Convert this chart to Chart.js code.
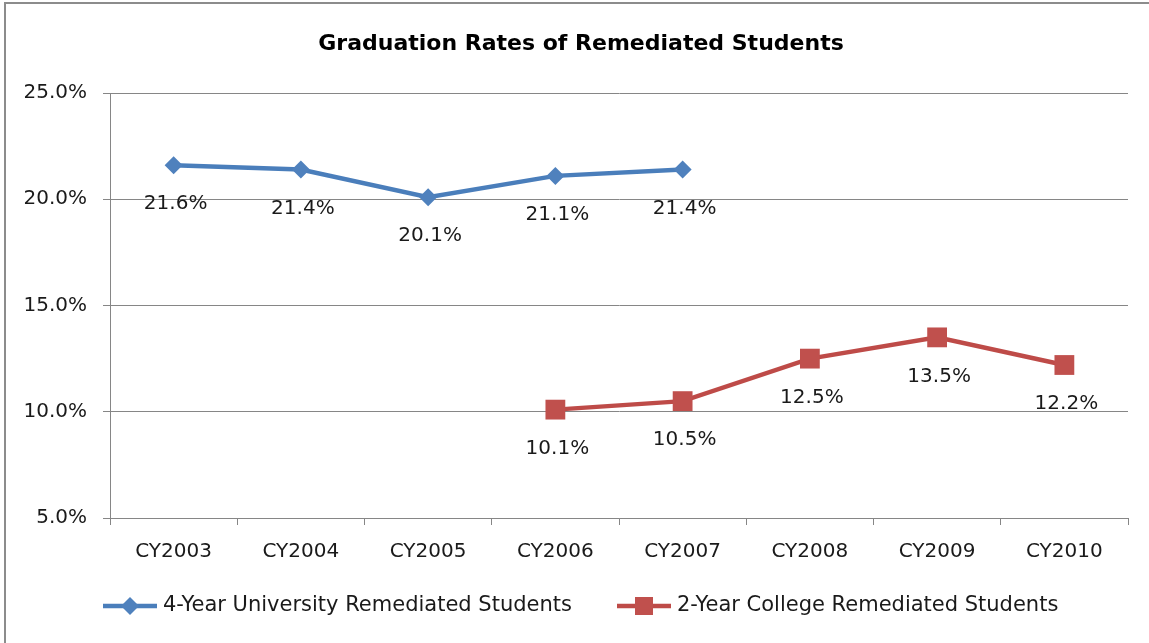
<!DOCTYPE html>
<html>
<head>
<meta charset="utf-8">
<script src="https://cdn.jsdelivr.net/npm/chart.js@4.4.1/dist/chart.umd.min.js"></script>
<style>
  html, body { margin: 0; padding: 0; background: #fff; }
  #wrap { width: 1149px; height: 643px; position: relative; }
</style>
</head>
<body>
<div id="wrap"><canvas id="gradChart" width="1149" height="643"></canvas></div>
<script>
const years = ['CY2003', 'CY2004', 'CY2005', 'CY2006', 'CY2007', 'CY2008', 'CY2009', 'CY2010'];
const fourYearRates = [21.6, 21.4, 20.1, 21.1, 21.4, null, null, null];
const twoYearRates = [null, null, null, 10.1, 10.5, 12.5, 13.5, 12.2];
const yTickValues = [5, 10, 15, 20, 25];
const seriesNames = ['4-Year University Remediated Students', '2-Year College Remediated Students'];
const chartTitle = 'Graduation Rates of Remediated Students';

const FONT = '"DejaVu Sans", sans-serif';
const BLUE = '#4A7EBB', BLUE_PT = '#4F81BD';
const RED = '#BE4B48', RED_PT = '#C0504D';
const GRID = '#868686';

// title, frame, legend and value labels drawn by hand (Excel look)
const decor = {
  id: 'decor',
  beforeDraw(chart) {
    const c = chart.ctx;
    c.save();
    c.strokeStyle = '#8c8c8c';
    c.lineWidth = 2;
    c.strokeRect(5, 3, 1200, 700);
    c.restore();
  },
  afterDatasetsDraw(chart) {
    const c = chart.ctx;
    c.save();
    c.font = '20px ' + FONT;
    c.fillStyle = '#1a1a1a';
    c.textAlign = 'center';
    c.textBaseline = 'middle';
    chart.data.datasets.forEach((ds, i) => {
      chart.getDatasetMeta(i).data.forEach((pt, j) => {
        if (ds.data[j] == null) return;
        c.fillText(ds.data[j].toFixed(1) + '%', pt.x + 2, pt.y + 39);
      });
    });

    // title
    c.font = 'bold 22px ' + FONT;
    c.fillStyle = '#000';
    c.fillText(chartTitle, 581, 44);

    // legend
    const items = [
      { x: 103, color: BLUE, pt: BLUE_PT, shape: 'diamond', name: seriesNames[0] },
      { x: 617, color: RED, pt: RED_PT, shape: 'square', name: seriesNames[1] }
    ];
    const ly = 606;
    c.font = '21px ' + FONT;
    c.textAlign = 'left';
    items.forEach(it => {
      c.strokeStyle = it.color;
      c.lineWidth = 4.5;
      c.beginPath();
      c.moveTo(it.x, ly);
      c.lineTo(it.x + 54, ly);
      c.stroke();
      c.fillStyle = it.pt;
      const mx = it.x + 27;
      c.beginPath();
      if (it.shape === 'diamond') {
        c.moveTo(mx, ly - 9); c.lineTo(mx + 9, ly); c.lineTo(mx, ly + 9); c.lineTo(mx - 9, ly);
      } else {
        c.rect(mx - 9, ly - 9, 18, 18);
      }
      c.closePath();
      c.fill();
      c.fillStyle = '#1a1a1a';
      c.fillText(it.name, it.x + 60, ly);
    });
    c.restore();
  }
};

const ctx = document.getElementById('gradChart');

const gradChart = new Chart(ctx, {
  type: 'line',
  data: {
    labels: years,
    datasets: [{
      label: seriesNames[0],
      data: fourYearRates,
      borderColor: BLUE,
      backgroundColor: BLUE_PT,
      borderWidth: 4.5,
      pointStyle: 'rectRot',
      pointRadius: 9,
      pointBorderWidth: 0,
      pointBackgroundColor: BLUE_PT,
      tension: 0
    }, {
      label: seriesNames[1],
      data: twoYearRates,
      borderColor: RED,
      backgroundColor: RED_PT,
      borderWidth: 4.5,
      pointStyle: 'rect',
      pointRadius: 14,
      pointBorderWidth: 0,
      pointBackgroundColor: RED_PT,
      tension: 0
    }]
  },
  options: {
    responsive: false,
    animation: false,
    layout: { padding: { top: 93, right: 21, bottom: 0, left: 0 } },
    plugins: {
      legend: { display: false },
      title: { display: false },
      tooltip: { enabled: false }
    },
    scales: {
      x: {
        offset: true,
        grid: {
          offset: true,
          drawOnChartArea: false,
          drawTicks: true,
          tickLength: 7,
          color: GRID
        },
        border: { color: GRID, width: 1 },
        ticks: { font: { family: FONT, size: 20 }, color: '#1a1a1a', padding: 15, maxRotation: 0 },
        afterFit(scale) { scale.height = 125; }
      },
      y: {
        min: 5,
        max: 25,
        afterBuildTicks(scale) { scale.ticks = yTickValues.map(v => ({ value: v })); },
        grid: { color: GRID, tickLength: 7, drawTicks: true },
        border: { color: GRID, width: 1 },
        ticks: {
          font: { family: FONT, size: 20 },
          color: '#1a1a1a',
          padding: 16,
          callback: v => v.toFixed(1) + '%'
        },
        afterFit(scale) { scale.width = 110; }
      }
    }
  },
  plugins: [decor]
});
</script>
</body>
</html>
